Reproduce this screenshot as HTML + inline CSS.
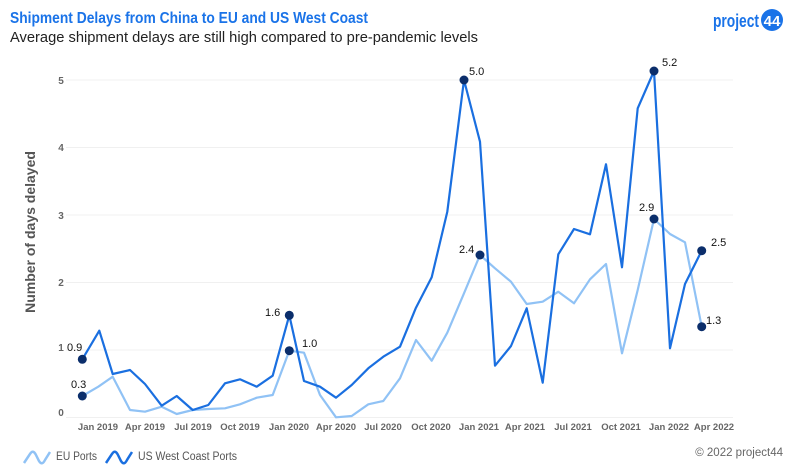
<!DOCTYPE html>
<html><head><meta charset="utf-8"><style>
body{margin:0;background:#fff;width:800px;height:471px;overflow:hidden;font-family:"Liberation Sans",sans-serif}
</style></head><body>
<svg width="800" height="471" viewBox="0 0 800 471" xmlns="http://www.w3.org/2000/svg" font-family="Liberation Sans, sans-serif">
<text x="10" y="23" font-size="16" font-weight="bold" fill="#1a73e8" textLength="358" lengthAdjust="spacingAndGlyphs">Shipment Delays from China to EU and US West Coast</text>
<text x="10" y="42" font-size="15" fill="#222" textLength="468" lengthAdjust="spacingAndGlyphs">Average shipment delays are still high compared to pre-pandemic levels</text>
<text x="713" y="27" font-size="18" font-weight="bold" fill="#1a73e8" textLength="46" lengthAdjust="spacingAndGlyphs">project</text>
<circle cx="772" cy="20" r="11" fill="#1a73e8"/>
<text x="772" y="26" font-size="15" font-weight="bold" fill="#fff" text-anchor="middle">44</text>
<g stroke="#f0f0f0" stroke-width="1">
<line x1="66" x2="733" y1="80" y2="80"/><line x1="66" x2="733" y1="147.5" y2="147.5"/><line x1="66" x2="733" y1="215" y2="215"/><line x1="66" x2="733" y1="282.5" y2="282.5"/><line x1="66" x2="733" y1="350" y2="350"/><line x1="66" x2="733" y1="417.5" y2="417.5"/>
</g>
<g font-size="10" fill="#666" text-anchor="middle" font-weight="bold">
<text x="61" y="84">5</text><text x="61" y="151">4</text><text x="61" y="219">3</text><text x="61" y="286">2</text><text x="61" y="351">1</text><text x="61" y="416">0</text>
</g>
<text transform="translate(35,232) rotate(-90)" font-size="14" font-weight="bold" fill="#555" text-anchor="middle">Number of days delayed</text>
<g font-size="9.5" fill="#666" text-anchor="middle" font-weight="bold">
<text x="98" y="430">Jan 2019</text><text x="145" y="430">Apr 2019</text><text x="193" y="430">Jul 2019</text><text x="240" y="430">Oct 2019</text><text x="289" y="430">Jan 2020</text><text x="336" y="430">Apr 2020</text><text x="383" y="430">Jul 2020</text><text x="431" y="430">Oct 2020</text><text x="479" y="430">Jan 2021</text><text x="525" y="430">Apr 2021</text><text x="573" y="430">Jul 2021</text><text x="621" y="430">Oct 2021</text><text x="669" y="430">Jan 2022</text><text x="714" y="430">Apr 2022</text>
</g>
<polyline fill="none" stroke="#90c2f5" stroke-width="2.2" stroke-linejoin="round" points="82.3,396 98.3,386.7 112.7,376.7 130,410 145,411.7 161.7,406.7 176.7,414 192.7,410 208.3,409 225,408.3 240,404.3 256.7,397.7 272.7,395 289.3,350.7 304,352.7 320,395 336,417.3 351.7,416 368.3,404.3 383.3,401 400,378.3 416,340 431.7,360.7 447.3,332.7 464,293.3 480,255 495,268.3 511,281.7 526.7,304 542.7,301.7 558.3,291.7 574,303.3 590,279.3 606,264 622,353.3 637.7,290 654,219 670,234 685,242.3 701.7,326.7"/>
<polyline fill="none" stroke="#1a6fe0" stroke-width="2.2" stroke-linejoin="round" points="82.3,359.3 99.3,330.7 112.7,374 130,370 145,384 161.7,405.7 176.7,396 192.7,410 208.3,405 225,383.3 240,379.3 256.7,386.7 272.7,375.7 289.3,315.3 304,381 320,386.7 336,397.7 351.7,385 368.3,368.3 383.3,356.7 400,346.7 415.7,308.3 431.7,277.3 447.3,211.7 464,80 480,141.7 495,365.7 511,346 526.7,308.3 542.7,382.7 558.3,254.3 574,229 590,234.3 606,164.3 622,267.3 637.7,108.3 654,71 670,348.3 685,284 701.7,250.7"/>
<g fill="#0b2e6b">
<circle cx="82.3" cy="359.3" r="4.5"/><circle cx="82.3" cy="396" r="4.5"/><circle cx="289.3" cy="315.3" r="4.5"/><circle cx="289.3" cy="350.7" r="4.5"/><circle cx="464" cy="80" r="4.5"/><circle cx="480" cy="255" r="4.5"/><circle cx="654" cy="71" r="4.5"/><circle cx="654" cy="219" r="4.5"/><circle cx="701.7" cy="250.7" r="4.5"/><circle cx="701.7" cy="326.7" r="4.5"/>
</g>
<g font-size="11" fill="#111">
<text x="67" y="351">0.9</text><text x="71" y="388">0.3</text><text x="265" y="316">1.6</text><text x="302" y="347">1.0</text><text x="469" y="75">5.0</text><text x="459" y="253">2.4</text><text x="639" y="211">2.9</text><text x="662" y="66">5.2</text><text x="711" y="246">2.5</text><text x="706" y="324">1.3</text>
</g>
<path d="M24,463 L30,454 Q33,449 36,455 L39,461 Q42,466 45,460 L50,452" fill="none" stroke="#90c2f5" stroke-width="2.5"/>
<text x="56" y="460" font-size="11.5" fill="#555" textLength="41" lengthAdjust="spacingAndGlyphs">EU Ports</text>
<path d="M106,463 L112,454 Q115,449 118,455 L121,461 Q124,466 127,460 L132,452" fill="none" stroke="#1a6fe0" stroke-width="2.5"/>
<text x="138" y="460" font-size="11.5" fill="#555" textLength="99" lengthAdjust="spacingAndGlyphs">US West Coast Ports</text>
<text x="783" y="456" font-size="11.5" fill="#666" text-anchor="end">© 2022 project44</text>
</svg>
</body></html>
